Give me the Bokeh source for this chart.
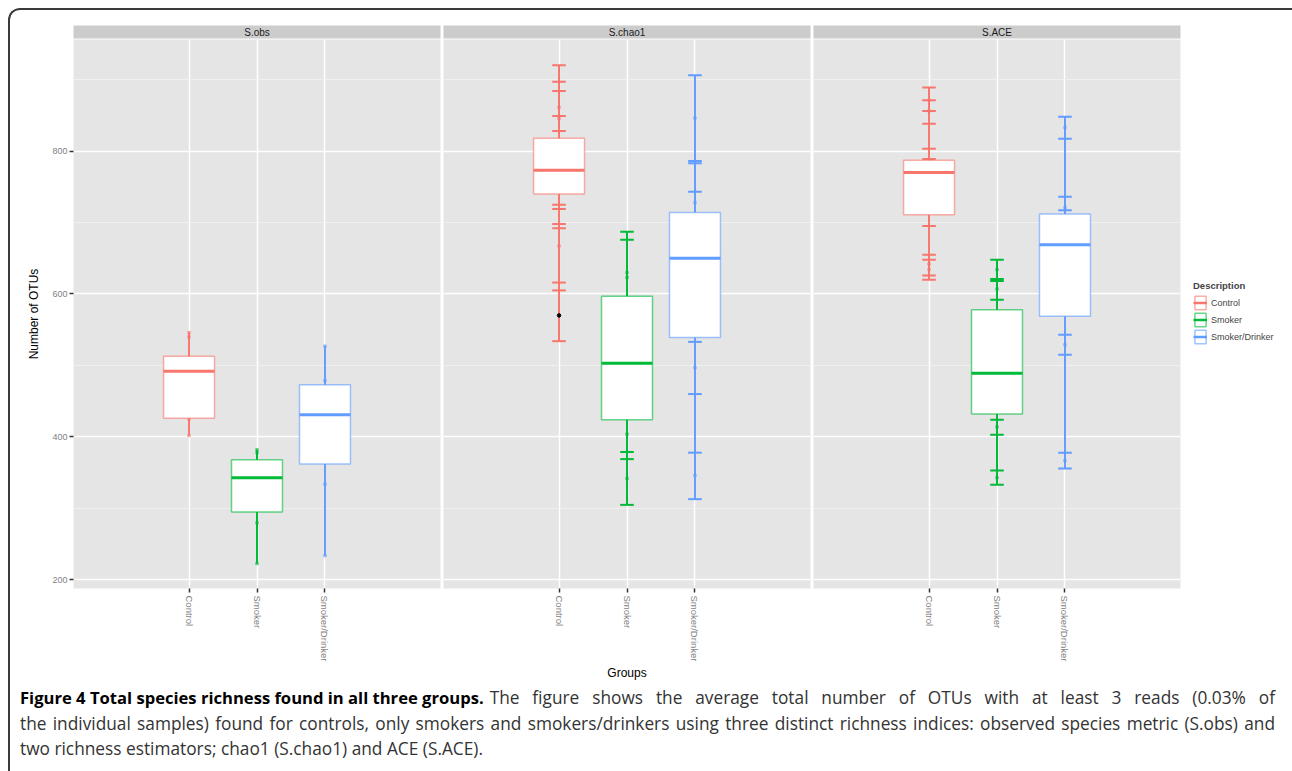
import math
from bokeh.plotting import figure
from bokeh.models import FactorRange, Range1d, SingleIntervalTicker, Legend, LegendItem, Div
from bokeh.layouts import column, row
from bokeh.embed import file_html
from bokeh.resources import INLINE
from bokeh.core.properties import value

# ---------------- data ----------------
groups = ["Control", "Smoker", "Smoker/Drinker"]
metrics = ["S.obs", "S.chao1", "S.ACE"]
colors = ["#F8766D", "#00BA38", "#619CFF"]

# S.obs
obs_q1 = [426, 295, 362]
obs_median = [492, 343, 431]
obs_q3 = [513, 368, 473]
obs_low = [402, 223, 234]
obs_high = [546, 382, 527]
obs_caps = [[], [], []]
obs_points = [[546, 540, 425, 402], [382, 378, 280, 223], [527, 479, 334, 234]]
obs_outliers = [[], [], []]

# S.chao1
chao1_q1 = [740, 424, 539]
chao1_median = [773, 503, 650]
chao1_q3 = [818, 597, 714]
chao1_low = [534, 305, 313]
chao1_high = [920, 687, 906]
chao1_caps = [[920, 897, 884, 849, 828, 725, 719, 698, 692, 616, 605, 534],
              [687, 676, 379, 369, 305],
              [906, 786, 783, 743, 533, 460, 378, 313]]
chao1_points = [[861, 845, 667], [630, 623, 404, 342], [846, 728, 497, 346]]
chao1_outliers = [[570], [], []]

# S.ACE
ace_q1 = [711, 432, 569]
ace_median = [770, 489, 669]
ace_q3 = [787, 578, 712]
ace_low = [620, 333, 356]
ace_high = [889, 648, 848]
ace_caps = [[889, 871, 856, 838, 803, 789, 695, 655, 648, 626, 620],
            [648, 621, 618, 592, 424, 403, 353, 333],
            [848, 817, 736, 717, 543, 515, 378, 356]]
ace_points = [[871, 856, 642, 634], [634, 607, 414, 343], [833, 721, 529, 367]]
ace_outliers = [[], [], []]

y_min, y_max = 188, 956
y_tick_interval = 200

caption_title = "Figure 4 Total species richness found in all three groups."
caption_line1 = "The figure shows the average total number of OTUs with at least 3 reads (0.03% of"
caption_line2 = ("the individual samples) found for controls, only smokers and smokers/drinkers using "
                 "three distinct richness indices: observed species metric (S.obs) and")
caption_line3 = "two richness estimators; chao1 (S.chao1) and ACE (S.ACE)."

panel_data = [
    (obs_q1, obs_median, obs_q3, obs_low, obs_high, obs_caps, obs_points, obs_outliers),
    (chao1_q1, chao1_median, chao1_q3, chao1_low, chao1_high, chao1_caps, chao1_points, chao1_outliers),
    (ace_q1, ace_median, ace_q3, ace_low, ace_high, ace_caps, ace_points, ace_outliers),
]

# ---------------- layout / style ----------------
FONT = "Liberation Sans"
FRAME_W = 367
FRAME_H = 549
STRIP_H = 13
BOTTOM = 95
BORDERS = [(63, 2), (1, 2), (1, 2)]
LEGEND_W = 100
BOX_W = 0.75
CAP_W = 0.2
NAN = float("nan")

y_range = Range1d(y_min, y_max)
strips, panels = [], []

for j, metric in enumerate(metrics):
    q1, med, q3, lo, hi, caps, pts, outs = panel_data[j]
    bl, br = BORDERS[j]
    W = bl + FRAME_W + br
    x_range = FactorRange(*groups, range_padding=1.2, range_padding_units="absolute")

    s = figure(width=W, height=15 + STRIP_H + 1, x_range=x_range, y_range=Range1d(0, 1),
               x_axis_type=None, y_axis_type=None,
               min_border_left=bl, min_border_right=br, min_border_top=15, min_border_bottom=1,
               background_fill_color="#CCCCCC", border_fill_color="white",
               outline_line_color=None, toolbar_location=None, output_backend="svg")
    s.text(x=[groups[1]], y=[0.5], text=[metric], text_align="center", text_baseline="middle",
           text_font=value(FONT), text_font_size="10px", text_color="#1A1A1A")
    strips.append(s)

    p = figure(width=W, height=FRAME_H + BOTTOM, x_range=x_range, y_range=y_range,
               y_axis_location="left" if j == 0 else None,
               min_border_left=bl, min_border_right=br, min_border_top=0, min_border_bottom=BOTTOM,
               background_fill_color="#E5E5E5", border_fill_color="white",
               outline_line_color=None, toolbar_location=None, output_backend="svg")

    ticker = SingleIntervalTicker(interval=y_tick_interval, num_minor_ticks=2)
    p.ygrid.ticker = ticker
    if j == 0:
        ax = p.yaxis[0]
        ax.ticker = ticker
        ax.axis_line_color = None
        ax.major_tick_line_color = "#333333"
        ax.major_tick_line_width = 1.5
        ax.major_tick_out = 4
        ax.major_tick_in = 0
        ax.minor_tick_line_color = None
        ax.major_label_standoff = 2
        ax.major_label_text_color = "#7F7F7F"
        ax.major_label_text_font = FONT
        ax.major_label_text_font_size = "9px"
        ax.axis_label = "Number of OTUs"
        ax.axis_label_text_font = FONT
        ax.axis_label_text_font_size = "12px"
        ax.axis_label_text_font_style = "normal"
        ax.axis_label_text_color = "#000000"
        ax.axis_label_standoff = 8
    p.ygrid.grid_line_color = "white"
    p.ygrid.grid_line_width = 1.5
    p.ygrid.minor_grid_line_color = "#F2F2F2"
    p.ygrid.minor_grid_line_width = 0.8

    p.xgrid.grid_line_color = "white"
    p.xgrid.grid_line_width = 1.5

    xa = p.xaxis[0]
    xa.axis_line_color = None
    xa.major_tick_line_color = "#333333"
    xa.major_tick_line_width = 1.5
    xa.major_tick_out = 4
    xa.major_tick_in = 0
    xa.major_label_standoff = 3
    xa.major_label_orientation = -math.pi / 2
    xa.major_label_text_color = "#7F7F7F"
    xa.major_label_text_font = FONT
    xa.major_label_text_font_size = "9.5px"
    if j == 1:
        xa.axis_label = "Groups"
        xa.axis_label_text_font = FONT
        xa.axis_label_text_font_size = "12px"
        xa.axis_label_text_font_style = "normal"
        xa.axis_label_text_color = "#000000"
        xa.axis_label_standoff = 2

    for gi, g in enumerate(groups):
        c = colors[gi]
        p.segment(x0=[g], y0=[lo[gi]], x1=[g], y1=[hi[gi]], line_color=c, line_width=2)
        if caps[gi]:
            p.rect(x=[g] * len(caps[gi]), y=caps[gi], width=CAP_W, height=2, height_units="screen",
                   fill_color=c, line_color=None)
        p.scatter(x=[g] * len(pts[gi]), y=pts[gi], marker="square", size=2.5,
                  color=c, alpha=0.5)
        p.vbar(x=[g], bottom=[q1[gi]], top=[q3[gi]], width=BOX_W, fill_color="white",
               line_color=c, line_alpha=0.6, line_width=1.5)
        p.segment(x0=[(g, -BOX_W / 2)], y0=[med[gi]], x1=[(g, BOX_W / 2)], y1=[med[gi]],
                  line_color=c, line_width=3)
        if outs[gi]:
            p.scatter(x=[g] * len(outs[gi]), y=outs[gi], size=3.5, color="black")
    panels.append(p)

# ---------------- legend (own canvas to the right of the panels) ----------------
# key-only renderers: their rows hold NaN, so only their legend swatches are drawn
lg = figure(width=LEGEND_W, height=FRAME_H + BOTTOM,
            x_range=FactorRange(*groups), y_range=Range1d(0, 1),
            x_axis_type=None, y_axis_type=None, min_border=0,
            background_fill_color="white", border_fill_color="white",
            outline_line_color=None, toolbar_location=None, output_backend="svg")
legend_items = []
for gi, g in enumerate(groups):
    c = colors[gi]
    kb = lg.vbar(x=[g], bottom=[NAN], top=[NAN], width=BOX_W, fill_color="white",
                 line_color=c, line_alpha=0.6, line_width=1.5)
    km = lg.segment(x0=[g], y0=[NAN], x1=[g], y1=[NAN], line_color=c, line_width=2.5)
    legend_items.append(LegendItem(label=g, renderers=[kb, km]))
legend = Legend(items=legend_items, location=(11, 243), title="Description",
                title_text_font=FONT, title_text_font_style="bold",
                title_text_font_size="9.5px", title_standoff=3,
                label_text_font=FONT, label_text_font_size="9px",
                glyph_width=14, glyph_height=17, label_height=17, label_standoff=4,
                spacing=0, padding=0, margin=0,
                border_line_color=None, background_fill_alpha=0)
lg.add_layout(legend, "center")

# ---------------- caption ----------------
JUST = "text-align:justify;text-align-last:justify;white-space:nowrap;"
caption_html = (
    '<div style="margin:-3px 0 0 5px;width:1255px;font-family:\'Open Sans\';font-size:17.3px;'
    'line-height:25.5px;color:#333333;">'
    '<div style="display:flex;white-space:nowrap;">'
    '<b style="color:#000000;font-size:16.6px;flex:none;">' + caption_title + '</b>'
    '<span style="flex:1;margin-left:6px;' + JUST + '">' + caption_line1 + '</span></div>'
    '<div style="' + JUST + '">' + caption_line2 + '</div>'
    '<div style="white-space:nowrap;">' + caption_line3 + '</div>'
    '</div>'
)
caption = Div(text=caption_html, width=1272, height=80)

layout = column(
    row(*strips),
    row(*panels, lg),
    caption,
    styles={
        "margin": "8px 0 0 8px",
        "border-top": "2px solid #3a3a3a",
        "border-left": "2px solid #3a3a3a",
        "border-top-left-radius": "12px",
        "overflow": "hidden",
    },
)

open("out.html", "w").write(file_html(layout, INLINE))
